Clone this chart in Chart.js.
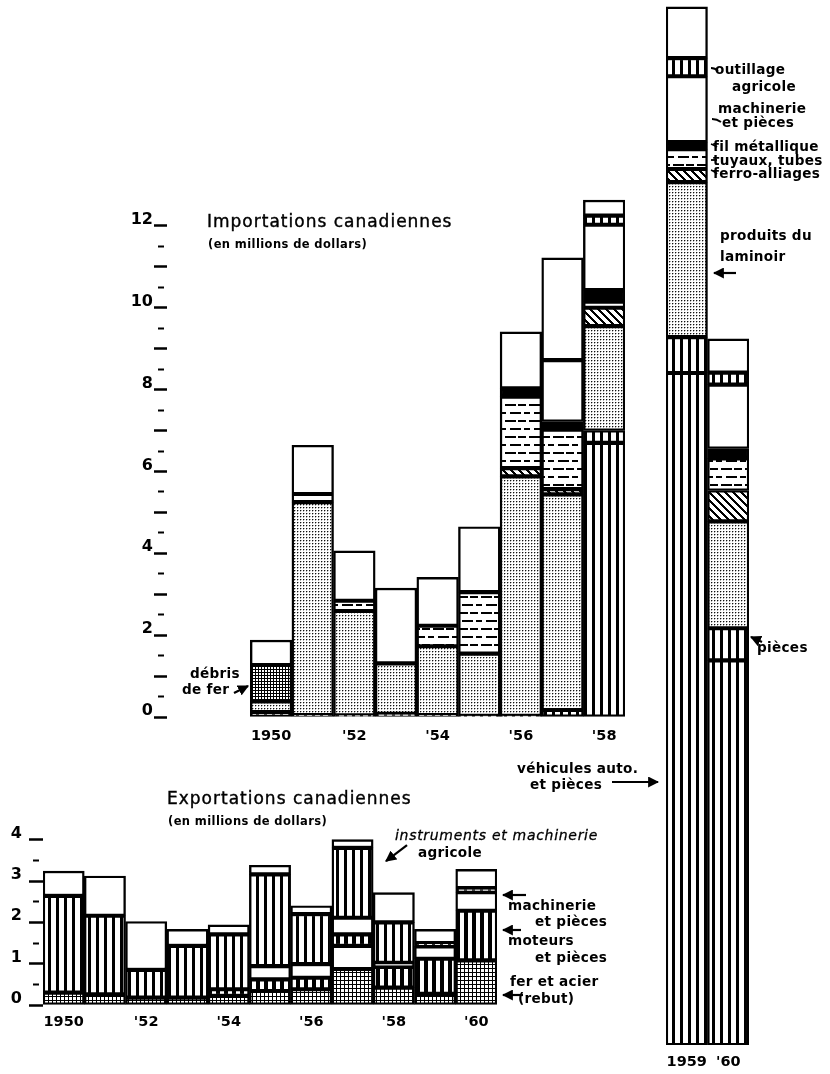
<!DOCTYPE html>
<html><head><meta charset="utf-8">
<script src="https://cdn.jsdelivr.net/npm/chart.js@4.4.0/dist/chart.umd.min.js"></script>
<style>
html,body{margin:0;padding:0;background:#fff;}
#wrap{position:relative;width:830px;height:1074px;overflow:hidden;font-family:'DejaVu Sans',sans-serif;color:#000;background:#fff;}
canvas{position:absolute;left:0;top:0;}
svg{position:absolute;left:0;top:0;}
.t{position:absolute;white-space:nowrap;line-height:1;font-size:13.6px;font-weight:bold;letter-spacing:0.3px;}
.title{font-size:17px;font-weight:normal;letter-spacing:1px;-webkit-text-stroke:0.4px #000;}
.sub{font-size:11.5px;font-weight:bold;letter-spacing:0.4px;}
.it{font-style:italic;font-weight:normal;font-size:14px;letter-spacing:0.7px;-webkit-text-stroke:0.3px #000;}
</style></head><body>
<div id="wrap">
<canvas id="cA" width="830" height="1074"></canvas>
<canvas id="cB" width="830" height="1074"></canvas>
<canvas id="cC" width="830" height="1074"></canvas>
<svg width="830" height="1074" viewBox="0 0 830 1074">
<defs><marker id="ah" viewBox="0 0 10 10" refX="9" refY="5" markerWidth="5" markerHeight="5" orient="auto"><path d="M0,0 L10,5 L0,10 z" fill="#000"/></marker></defs>
<g stroke="#000" stroke-width="2.2" fill="none" marker-end="url(#ah)">
<line x1="234" y1="693" x2="248" y2="686"/>
<line x1="407" y1="845" x2="386" y2="861"/>
<line x1="526" y1="895" x2="503" y2="895"/>
<line x1="521" y1="930" x2="503" y2="930"/>
<line x1="523" y1="995" x2="503" y2="995"/>
<line x1="612" y1="782" x2="658" y2="782"/>
<line x1="736" y1="273" x2="714" y2="273"/>
<line x1="762" y1="642" x2="751" y2="637"/>
</g>
<g stroke="#000" stroke-width="1.8" fill="none">
<path d="M718,71 q-3,-3 -7,-3"/>
<path d="M721,122 q-4,-3 -9,-3"/>
<path d="M717,147 q-3,-2 -6,-3"/>
<path d="M717,160 l-6,0"/>
<path d="M717,174 q-3,-3 -6,-4"/>
</g>
</svg>
<div class="t title" style="left:207px;top:213px">Importations canadiennes</div>
<div class="t sub" style="left:208px;top:239px">(en millions de dollars)</div>
<div class="t" style="left:190px;top:667px">débris</div>
<div class="t" style="left:182px;top:683px">de fer</div>
<div class="t title" style="left:167px;top:790px">Exportations canadiennes</div>
<div class="t sub" style="left:168px;top:816px">(en millions de dollars)</div>
<div class="t it" style="left:395px;top:828px">instruments et machinerie</div>
<div class="t" style="left:418px;top:846px">agricole</div>
<div class="t" style="left:508px;top:899px">machinerie</div>
<div class="t" style="left:535px;top:915px">et pièces</div>
<div class="t" style="left:508px;top:934px">moteurs</div>
<div class="t" style="left:535px;top:951px">et pièces</div>
<div class="t" style="left:510px;top:975px">fer et acier</div>
<div class="t" style="left:518px;top:992px">(rebut)</div>
<div class="t" style="left:517px;top:762px">véhicules auto.</div>
<div class="t" style="left:530px;top:778px">et pièces</div>
<div class="t" style="left:715px;top:63px">outillage</div>
<div class="t" style="left:732px;top:80px">agricole</div>
<div class="t" style="left:718px;top:102px">machinerie</div>
<div class="t" style="left:722px;top:116px">et pièces</div>
<div class="t" style="left:713px;top:140px">fil métallique</div>
<div class="t" style="left:713px;top:154px">tuyaux, tubes</div>
<div class="t" style="left:713px;top:167px">ferro-alliages</div>
<div class="t" style="left:720px;top:229px">produits du</div>
<div class="t" style="left:720px;top:250px">laminoir</div>
<div class="t" style="left:757px;top:641px">pièces</div>
</div>
<script>
// ---------- DATA ----------
// Imports, years 1950..1960 (millions of dollars)
const importYears = ['1950','1951','1952','1953','1954','1955','1956','1957','1958','1959','1960'];
const importTickLabels = ['1950','',"'52",'',"'54",'',"'56",'',"'58",'1959',"'60"];
const impVehicules  = [0.12,0.05,0.04,0.08,0.05,0.03,0.03,0.17,6.70,16.30,9.33];
const impPieces     = [0,0,0,0,0,0,0,0,0.30,0.87,0.78];
const impLaminoir   = [0.26,5.20,2.55,1.23,1.68,1.52,5.85,5.27,2.55,3.76,2.59];
const impDebris     = [0.89,0,0,0,0,0,0,0,0,0,0];
const impFerro      = [0,0,0,0,0,0,0.20,0.13,0.45,0.32,0.75];
const impTuyaux     = [0,0.20,0.25,0,0.50,1.50,1.75,1.45,0.15,0.48,0.78];
const impFil        = [0,0,0,0,0,0,0.20,0.20,0.28,0.17,0.24];
const impMachinerie = [0.61,1.19,1.22,1.84,1.18,1.60,1.38,1.50,1.60,1.60,1.55];
const impOutillage  = [0,0,0,0,0,0,0,0,0.22,0.44,0.29];
const impAutres     = [0,0,0,0,0,0,0,2.50,0.38,1.24,0.82];
const importYTicks  = [0,2,4,6,8,10,12];

// Exports, years 1950..1960
const exportYears = ['1950','1951','1952','1953','1954','1955','1956','1957','1958','1959','1960'];
const exportTickLabels = ['1950','',"'52",'',"'54",'',"'56",'',"'58",'',"'60"];
const expRebut       = [0.30,0.26,0.18,0.18,0.22,0.34,0.38,0.87,0.42,0.27,1.08];
const expAutresBas   = [0,0,0,0,0,0,0,0.56,0,0,0];
const expMoteurs     = [0,0,0,0,0.16,0.28,0.28,0.28,0.50,0.85,1.20];
const expMachinerie  = [0,0,0,0,0,0.32,0.33,0.40,0.10,0.30,0.45];
const expInstruments = [2.34,1.90,0.67,1.25,1.33,2.22,1.21,1.69,0.98,0.08,0.10];
const expAutres      = [0.60,0.96,1.17,0.40,0.23,0.22,0.20,0.20,0.72,0.33,0.45];
const exportYTicks   = [0,1,2,3,4];

// ---------- PATTERNS ----------
function makeTile(w,h,draw){const c=document.createElement('canvas');c.width=w;c.height=h;const g=c.getContext('2d');g.fillStyle='#fff';g.fillRect(0,0,w,h);g.fillStyle='#000';draw(g);return c;}
const tiles = {
  stripes: makeTile(8,8,g=>g.fillRect(0,0,3,8)),
  blocks: makeTile(8,8,g=>g.fillRect(0,0,4,8)),
  stipple: makeTile(3,3,g=>{g.fillStyle='#111';g.fillRect(0,0,1,1);g.fillStyle='#b0b0b0';g.fillRect(1,0,1,1);g.fillRect(0,1,1,1);}),
  grid: makeTile(3,3,g=>{g.fillRect(0,0,3,1);g.fillRect(0,0,1,3);}),
  gridLight: makeTile(4,4,g=>{g.fillRect(0,0,4,1);g.fillRect(0,0,1,4);}),
  dashes: makeTile(24,16,g=>{g.fillRect(1,4,11,2);g.fillRect(14,4,8,2);g.fillRect(6,12,11,2);g.fillRect(20,12,4,2);g.fillRect(0,12,2,2);}),
  hatch: makeTile(8,8,g=>{for(let y=0;y<8;y++)for(let x=0;x<8;x++){if(((x-y)%8+8)%8<3)g.fillRect(x,y,1,1);}})
};
function pat(ctx,name){return ctx.createPattern(tiles[name],'repeat');}

const FONT = "'DejaVu Sans', sans-serif";
function ds(label,data,fill){
  return {label,data,backgroundColor:fill,borderColor:'#000',borderWidth:2.4,borderSkipped:false,
          stack:'s',barPercentage:1,categoryPercentage:1};
}
function yAxis(max, tickMax, labelEvery, width, tickLen, pad, labelVals){
  return {
    stacked:true,min:0,max:max,
    afterFit:s=>{s.width=width;},
    border:{display:false},
    grid:{display:true,drawOnChartArea:false,drawTicks:true,tickLength:tickLen,
      tickColor:c=>(c.tick && c.tick.value<=tickMax+1e-6)?'#000':'rgba(0,0,0,0)',
      tickWidth:c=>(c.tick && Math.abs(c.tick.value%1)<1e-6)?2.5:2,
      tickBorderDash:c=>{
        if(!c.tick) return [];
        const v=c.tick.value;
        if(Math.abs(v%labelEvery)<1e-6) return [];
        if(Math.abs(v%1)<1e-6) return [];
        return [0,4,6,100];
      }},
    ticks:{stepSize:0.5,autoSkip:false,color:'#000',padding:pad,labelOffset:-6,
      font:{family:FONT,size:16,weight:'bold'},
      callback:v=>labelVals.some(l=>Math.abs(l-v)<1e-6)?String(Math.round(v)):''}
  };
}
function xAxis(height,pad){
  return {stacked:true,afterFit:s=>{s.height=height;},border:{display:false},
    grid:{display:false,drawTicks:false},
    ticks:{autoSkip:false,maxRotation:0,color:'#000',padding:pad,font:{family:FONT,size:14.5,weight:'bold'}}};
}
const baseOpts = {responsive:false,animation:false,devicePixelRatio:1,
  plugins:{legend:{display:false},tooltip:{enabled:false}}};

// ---------- CHART A: imports 1950-1958 ----------
(function(){
  const ctx=document.getElementById('cA').getContext('2d');
  const n=9;
  const pre=a=>[null,null].concat(a.slice(0,n).map(v=>v||null));
  const labels=['',''].concat(importTickLabels.slice(0,n));
  new Chart(ctx,{type:'bar',
    data:{labels,datasets:[
      ds('véhicules auto.',pre(impVehicules),pat(ctx,'stripes')),
      ds('pièces',pre(impPieces),pat(ctx,'stripes')),
      ds('produits du laminoir',pre(impLaminoir),pat(ctx,'stipple')),
      ds('débris de fer',pre(impDebris),pat(ctx,'grid')),
      ds('ferro-alliages',pre(impFerro),pat(ctx,'hatch')),
      ds('tuyaux, tubes',pre(impTuyaux),pat(ctx,'dashes')),
      ds('fil métallique',pre(impFil),'#000'),
      ds('machinerie et pièces',pre(impMachinerie),'#fff'),
      ds('outillage agricole',pre(impOutillage),pat(ctx,'stripes')),
      ds('autres',pre(impAutres),'#fff')
    ]},
    options:Object.assign({},baseOpts,{
      layout:{padding:{left:100,right:205,top:185,bottom:1074-717-30}},
      scales:{x:xAxis(30,11),y:yAxis(13,12,2,67,13,1,importYTicks)}
    })
  });
})();

// ---------- CHART B: imports 1959-1960 ----------
(function(){
  const ctx=document.getElementById('cB').getContext('2d');
  const sl=a=>a.slice(9,11).map(v=>v||null);
  new Chart(ctx,{type:'bar',
    data:{labels:importTickLabels.slice(9,11),datasets:[
      ds('véhicules auto.',sl(impVehicules),pat(ctx,'stripes')),
      ds('pièces',sl(impPieces),pat(ctx,'stripes')),
      ds('produits du laminoir',sl(impLaminoir),pat(ctx,'stipple')),
      ds('débris de fer',sl(impDebris),pat(ctx,'grid')),
      ds('ferro-alliages',sl(impFerro),pat(ctx,'hatch')),
      ds('tuyaux, tubes',sl(impTuyaux),pat(ctx,'dashes')),
      ds('fil métallique',sl(impFil),'#000'),
      ds('machinerie et pièces',sl(impMachinerie),'#fff'),
      ds('outillage agricole',sl(impOutillage),pat(ctx,'stripes')),
      ds('autres',sl(impAutres),'#fff')
    ]},
    options:Object.assign({},baseOpts,{
      layout:{padding:{left:666,right:830-749,top:2,bottom:1074-1045-25}},
      scales:{x:xAxis(25,9),y:{stacked:true,min:0,max:25.3,display:false}}
    })
  });
})();

// ---------- CHART C: exports 1950-1960 ----------
(function(){
  const ctx=document.getElementById('cC').getContext('2d');
  const m=a=>a.map(v=>v||null);
  new Chart(ctx,{type:'bar',
    data:{labels:exportTickLabels,datasets:[
      ds('fer et acier (rebut)',m(expRebut),pat(ctx,'gridLight')),
      ds('autres (bas)',m(expAutresBas),'#fff'),
      ds('moteurs et pièces',m(expMoteurs),pat(ctx,'blocks')),
      ds('machinerie et pièces',m(expMachinerie),'#fff'),
      ds('instruments et machinerie agricole',m(expInstruments),pat(ctx,'stripes')),
      ds('autres',m(expAutres),'#fff')
    ]},
    options:Object.assign({},baseOpts,{
      layout:{padding:{left:0,right:830-497,top:819,bottom:1074-1005-30}},
      scales:{x:xAxis(30,9),y:yAxis(4.5,4,1,43,14,7,exportYTicks)}
    })
  });
})();
</script>
</body></html>
